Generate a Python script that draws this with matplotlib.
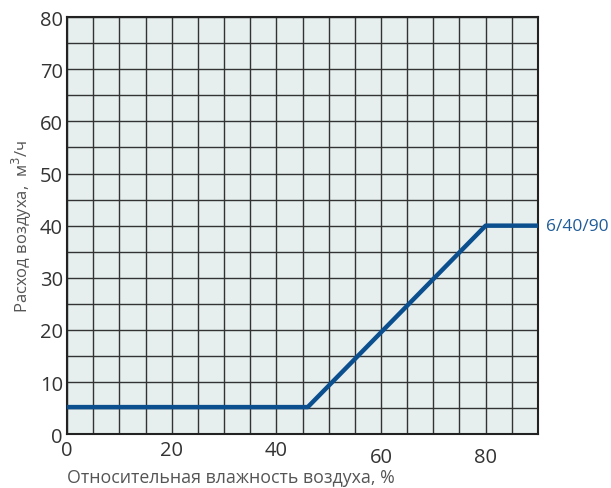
import matplotlib
matplotlib.use("Agg")
import matplotlib.pyplot as plt
import matplotlib.transforms as mtransforms

# данные кривой
humidity = [0, 46, 80, 90]
airflow = [5.2, 5.2, 40, 40]
series_label = "6/40/90"

x_ticks = [0, 20, 40, 60, 80]
y_ticks = [0, 10, 20, 30, 40, 50, 60, 70, 80]

plt.rcParams['font.family'] = ['Open Sans', 'DejaVu Sans']

fig = plt.figure(figsize=(6.11, 4.89), dpi=100)
ax = fig.add_axes([0.1097, 0.110, 0.7708, 0.853])
ax.set_facecolor('#e6eeee')

ax.set_xlim(0, 90)
ax.set_ylim(0, 80)
ax.set_xticks(range(0, 91, 5), minor=True)
ax.set_yticks(range(0, 81, 5), minor=True)
ax.set_xticks(x_ticks)
ax.set_yticks(y_ticks)
ax.grid(which='both', color='#333333', linewidth=1.0)
ax.set_axisbelow(True)
ax.tick_params(which='both', length=0, labelsize=14.5, colors='#333333')
ax.tick_params(axis='x', pad=4)
ax.tick_params(axis='y', pad=3)

# в оригинале подписи 60 и 80 чуть ниже остальных
for lab in ax.get_xticklabels()[3:]:
    lab.set_transform(lab.get_transform() + mtransforms.ScaledTranslation(0, -7 / 100, fig.dpi_scale_trans))

for s in ax.spines.values():
    s.set_color('#222222')
    s.set_linewidth(1.5)

ax.plot(humidity, airflow, color='#0b4f8f', linewidth=3.2, solid_capstyle='butt', clip_on=False, zorder=5)
ax.text(91.5, airflow[-1], series_label, color='#1f5c99', fontsize=12.5, va='center', ha='left')

ax.set_xlabel("Относительная влажность воздуха, %", fontsize=12.8, color='#555555', ha='left', va='center')
ax.xaxis.set_label_coords(0, -0.103)
ax.set_ylabel("Расход воздуха,  м$^3$/ч", fontsize=12, color='#555555', labelpad=4)

fig.savefig("out.png", dpi=100)
